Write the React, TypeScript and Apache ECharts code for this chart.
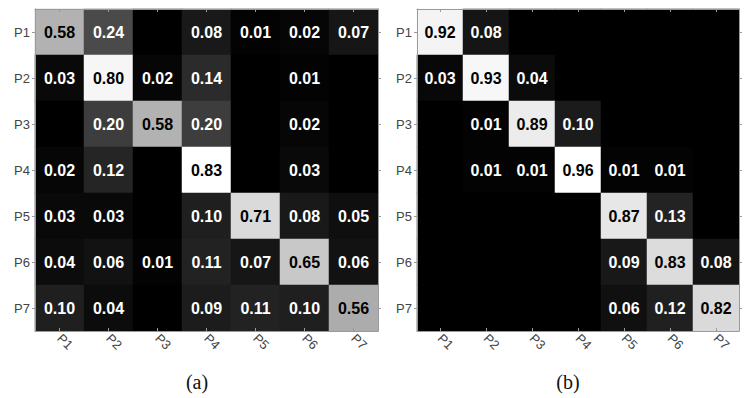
import React, { useEffect, useRef } from "react";
import * as echarts from "echarts";

const categories = ["P1", "P2", "P3", "P4", "P5", "P6", "P7"];

const matrixA: number[][] = [
  [0.58, 0.24, 0, 0.08, 0.01, 0.02, 0.07],
  [0.03, 0.8, 0.02, 0.14, 0, 0.01, 0],
  [0, 0.2, 0.58, 0.2, 0, 0.02, 0],
  [0.02, 0.12, 0, 0.83, 0, 0.03, 0],
  [0.03, 0.03, 0, 0.1, 0.71, 0.08, 0.05],
  [0.04, 0.06, 0.01, 0.11, 0.07, 0.65, 0.06],
  [0.1, 0.04, 0, 0.09, 0.11, 0.1, 0.56],
];

const matrixB: number[][] = [
  [0.92, 0.08, 0, 0, 0, 0, 0],
  [0.03, 0.93, 0.04, 0, 0, 0, 0],
  [0, 0.01, 0.89, 0.1, 0, 0, 0],
  [0, 0.01, 0.01, 0.96, 0.01, 0.01, 0],
  [0, 0, 0, 0, 0.87, 0.13, 0],
  [0, 0, 0, 0, 0.09, 0.83, 0.08],
  [0, 0, 0, 0, 0.06, 0.12, 0.82],
];

const captions = ["(a)", "(b)"];

const SANS = "'Liberation Sans', Arial, Helvetica, sans-serif";
const SERIF = "'Liberation Serif', 'Times New Roman', serif";
const BORDER = "#9a9a9a";

function maxOf(m: number[][]) {
  return Math.max(...m.flat());
}

function toData(m: number[][], max: number) {
  return m.flatMap((row, r) =>
    row.map((v, c) => ({
      value: [c, r, v],
      label: { color: v / max > 0.5 ? "#000" : "#fff" },
    }))
  );
}

function xAxes(gridIndex: number) {
  const base = {
    gridIndex,
    type: "category" as const,
    data: categories,
    z: 5,
    axisLine: { show: true, lineStyle: { color: BORDER, width: 1 } },
    axisTick: { show: true, alignWithLabel: true, inside: true, length: 3, lineStyle: { color: BORDER } },
    splitLine: { show: false },
    splitArea: { show: false },
  };
  return [
    {
      ...base,
      position: "bottom",
      axisLabel: { rotate: -45, color: "#444", fontSize: 13, fontFamily: SANS, margin: 5 },
    },
    { ...base, position: "top", axisLabel: { show: false } },
  ];
}

function yAxes(gridIndex: number) {
  const base = {
    gridIndex,
    type: "category" as const,
    data: categories,
    inverse: true,
    z: 5,
    axisLine: { show: true, lineStyle: { color: BORDER, width: 1 } },
    axisTick: { show: true, alignWithLabel: true, inside: false, length: 3, lineStyle: { color: BORDER } },
    splitLine: { show: false },
    splitArea: { show: false },
  };
  return [
    {
      ...base,
      position: "left",
      axisLabel: { color: "#444", fontSize: 13, fontFamily: SANS, margin: 5 },
    },
    { ...base, position: "right", axisLabel: { show: false } },
  ];
}

export default function App() {
  const ref = useRef<HTMLDivElement>(null);

  useEffect(() => {
    if (!ref.current) return;
    const chart = echarts.init(ref.current, null, { renderer: "svg" });
    const maxA = maxOf(matrixA);
    const maxB = maxOf(matrixB);

    const labelCfg = {
      show: true,
      fontFamily: SANS,
      fontWeight: "bold" as const,
      fontSize: 16,
      formatter: (p: any) => (p.value[2] > 0 ? p.value[2].toFixed(2) : ""),
    };

    chart.setOption({
      animation: false,
      backgroundColor: "#fff",
      grid: [
        { left: 35, top: 9, width: 343, height: 322, show: false },
        { left: 417, top: 9, width: 322, height: 322, show: false },
      ],
      xAxis: [...xAxes(0), ...xAxes(1)],
      yAxis: [...yAxes(0), ...yAxes(1)],
      visualMap: [
        { seriesIndex: 0, min: 0, max: maxA, show: false, inRange: { color: ["#000000", "#ffffff"] } },
        { seriesIndex: 1, min: 0, max: maxB, show: false, inRange: { color: ["#000000", "#ffffff"] } },
      ],
      series: [
        {
          type: "heatmap",
          xAxisIndex: 0,
          yAxisIndex: 0,
          data: toData(matrixA, maxA),
          label: labelCfg,
          emphasis: { disabled: true },
        },
        {
          type: "heatmap",
          xAxisIndex: 2,
          yAxisIndex: 2,
          data: toData(matrixB, maxB),
          label: labelCfg,
          emphasis: { disabled: true },
        },
      ],
      graphic: [
        {
          type: "text",
          x: 197,
          y: 382,
          style: { text: captions[0], font: `20px ${SERIF}`, fill: "#111", textAlign: "center", textVerticalAlign: "middle" },
        },
        {
          type: "text",
          x: 568,
          y: 382,
          style: { text: captions[1], font: `20px ${SERIF}`, fill: "#111", textAlign: "center", textVerticalAlign: "middle" },
        },
      ],
    });

    return () => chart.dispose();
  }, []);

  return (
    <div
      ref={ref}
      style={{ position: "fixed", left: 0, top: 0, width: 750, height: 398, background: "#fff" }}
    />
  );
}
